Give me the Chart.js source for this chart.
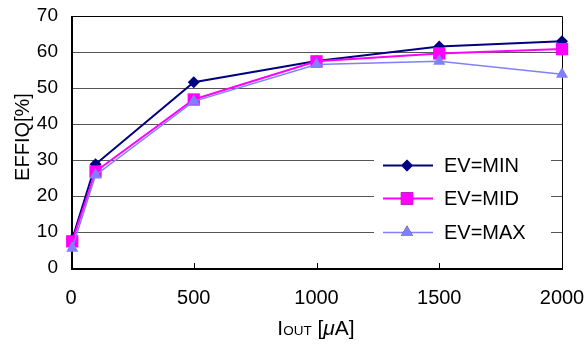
<!DOCTYPE html>
<html>
<head>
<meta charset="utf-8">
<script src="https://cdn.jsdelivr.net/npm/chart.js@4.4.1/dist/chart.umd.min.js"></script>
<style>
  html, body { margin: 0; padding: 0; background: #fff; }
  #wrap { width: 587px; height: 345px; position: relative; }
</style>
</head>
<body>
<div id="wrap"><canvas id="c" width="587" height="345"></canvas></div>
<script>
// ---- data ----
const ioutUA = [5, 100, 500, 1000, 1500, 2000];
const effMin = [8.0, 28.8, 51.6, 57.5, 61.5, 63.0];
const effMid = [7.4, 26.8, 46.8, 57.4, 59.6, 60.8];
const effMax = [5.5, 25.8, 46.3, 56.5, 57.4, 53.8];
const seriesNames = ['EV=MIN', 'EV=MID', 'EV=MAX'];
const yTicks = [0, 10, 20, 30, 40, 50, 60, 70];
const xTicks = [0, 500, 1000, 1500, 2000];

const colMin = '#000080', colMid = '#FF00FF', colMax = '#8080FF';
const FONT = '"Liberation Sans", Arial, sans-serif';

function pts(ys) { return ioutUA.map((x, i) => ({ x: x, y: ys[i] })); }

const datasets = [
  { label: seriesNames[0], data: pts(effMin), borderColor: colMin, backgroundColor: colMin,
    pointStyle: 'rectRot', pointRadius: 6, borderWidth: 2, order: 3 },
  { label: seriesNames[1], data: pts(effMid), borderColor: colMid, backgroundColor: colMid,
    pointStyle: 'rect', pointRadius: 8.7, borderWidth: 2, order: 2 },
  { label: seriesNames[2], data: pts(effMax), borderColor: colMax, backgroundColor: colMax,
    pointStyle: 'triangle', pointRadius: 7, borderWidth: 1.5, order: 1 },
].map(d => Object.assign(d, { tension: 0, clip: false, pointBorderWidth: 0, pointHoverRadius: d.pointRadius }));

const framePlugin = {
  id: 'frame',
  beforeDatasetsDraw(chart) {
    const ctx = chart.ctx, a = chart.chartArea;
    ctx.save();
    // legend box (white, covers gridlines)
    const lx = 374, lw = 177, ly = 146, lh = 104;
    ctx.fillStyle = '#fff';
    ctx.fillRect(lx, ly, lw, lh);
    // inward x ticks
    const xs = chart.scales.x;
    ctx.strokeStyle = '#000';
    ctx.lineWidth = 1;
    xTicks.forEach(v => {
      const px = Math.round(xs.getPixelForValue(v)) + 0.5;
      ctx.beginPath(); ctx.moveTo(px, a.bottom); ctx.lineTo(px, a.bottom - 5); ctx.stroke();
    });
    // top and right border
    ctx.strokeStyle = '#000';
    ctx.lineWidth = 1;
    ctx.beginPath();
    ctx.moveTo(a.left, a.top + 0.5); ctx.lineTo(a.right + 0.5, a.top + 0.5);
    ctx.lineTo(a.right + 0.5, a.bottom);
    ctx.stroke();
    // left & bottom axis
    ctx.lineWidth = 2;
    ctx.beginPath();
    ctx.moveTo(a.left + 1, a.top); ctx.lineTo(a.left + 1, a.bottom + 1);
    ctx.lineTo(a.right + 1, a.bottom + 1);
    ctx.stroke();
    ctx.restore();
  },
  afterDraw(chart) {
    const ctx = chart.ctx;
    ctx.save();
    // legend entries
    const rows = [165.5, 198.5, 232.5];
    chart.data.datasets.forEach((d, i) => {
      const y = rows[i];
      ctx.strokeStyle = d.borderColor;
      ctx.lineWidth = d.borderWidth;
      ctx.beginPath(); ctx.moveTo(383, y); ctx.lineTo(433, y); ctx.stroke();
      Chart.helpers.drawPoint(ctx, { pointStyle: d.pointStyle, radius: d.pointRadius, borderWidth: 0 }, 407, y);
      ctx.fillStyle = d.borderColor;
      ctx.fill();
      ctx.fillStyle = '#000';
      ctx.font = '20px ' + FONT;
      ctx.textBaseline = 'middle';
      ctx.textAlign = 'left';
      ctx.fillText(d.label, 444, y + 1);
    });
    // y title
    ctx.fillStyle = '#000';
    ctx.save();
    ctx.translate(23, 137);
    ctx.rotate(-Math.PI / 2);
    ctx.font = '20px ' + FONT;
    ctx.textAlign = 'center';
    ctx.textBaseline = 'middle';
    ctx.fillText('EFFIQ[%]', 0, 0);
    ctx.restore();
    // x title: I(OUT) [μA]
    const base = 335;
    ctx.textBaseline = 'alphabetic';
    ctx.textAlign = 'left';
    const big = '21px ' + FONT, small = '13.5px ' + FONT, ital = 'italic 21px ' + FONT;
    const parts = [['I', big], ['OUT', small], [' [', big], ['\u03BC', ital], ['A]', big]];
    let total = 0;
    parts.forEach(p => { ctx.font = p[1]; total += ctx.measureText(p[0]).width; });
    let x = 316 - total / 2;
    parts.forEach(p => { ctx.font = p[1]; ctx.fillText(p[0], x, base); x += ctx.measureText(p[0]).width; });
    ctx.restore();
  }
};

new Chart(document.getElementById('c'), {
  type: 'line',
  data: { datasets: datasets },
  options: {
    responsive: false,
    animation: false,
    events: [],
    layout: { padding: { left: 0, right: 25, top: 16, bottom: 0 } },
    plugins: { legend: { display: false }, tooltip: { enabled: false } },
    scales: {
      x: {
        type: 'linear', min: 0, max: 2000,
        afterBuildTicks: s => { s.ticks = xTicks.map(v => ({ value: v })); },
        afterFit: s => { s.height = 77; s.paddingLeft = 0; s.paddingRight = 0; },
        grid: { display: false, drawTicks: false },
        border: { display: false },
        ticks: { color: '#000', font: { family: FONT, size: 20 }, padding: 18, maxRotation: 0,
                 callback: v => String(v) }
      },
      y: {
        min: 0, max: 70,
        afterBuildTicks: s => { s.ticks = yTicks.map(v => ({ value: v })); },
        afterFit: s => { s.width = 71; s.paddingTop = 0; s.paddingBottom = 0; },
        grid: { color: '#555', lineWidth: 1, drawTicks: false },
        border: { display: false },
        ticks: { color: '#000', font: { family: FONT, size: 19 }, padding: 13,
                 callback: v => String(v) }
      }
    }
  },
  plugins: [framePlugin]
});
</script>
</body>
</html>
